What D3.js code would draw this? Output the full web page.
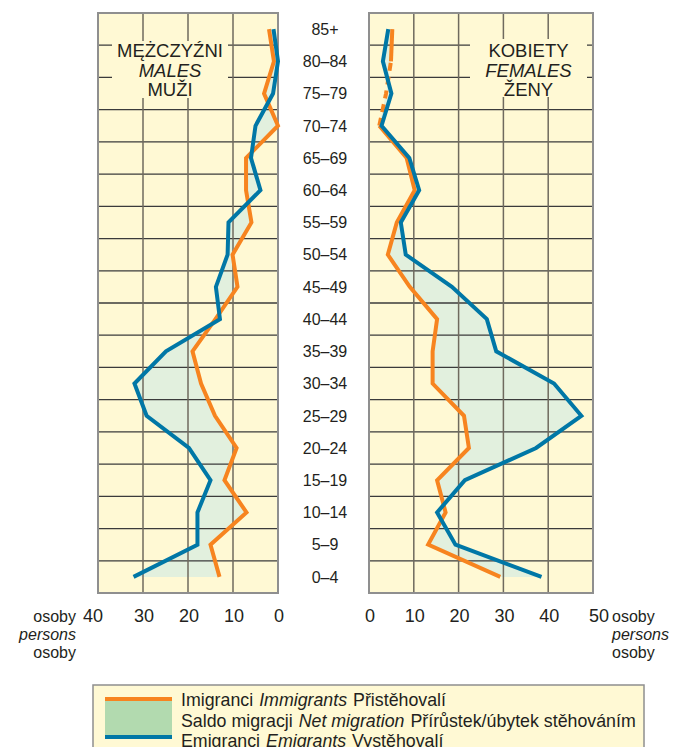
<!DOCTYPE html>
<html>
<head>
<meta charset="utf-8">
<script src="https://cdn.jsdelivr.net/npm/d3@7/dist/d3.min.js"></script>
<style>
  html, body { margin: 0; padding: 0; background: #ffffff; }
  svg { display: block; font-family: "Liberation Sans", Arial, Helvetica, sans-serif; }
</style>
</head>
<body>
<svg id="chart" width="677" height="747"></svg>
<script>
// Age groups, bottom (youngest) to top (oldest)
const ageGroups = ["0–4","5–9","10–14","15–19","20–24","25–29","30–34","35–39","40–44","45–49","50–54","55–59","60–64","65–69","70–74","75–79","80–84","85+"];

// Males (persons)
const malesImmigrants = [13.0, 15.0, 7.0, 11.9, 9.2, 14.0, 17.1, 19.0, 13.9, 9.0, 10.1, 5.9, 7.1, 7.1, 0.0, 3.1, 0.9, 2.0];
const malesEmigrants  = [32.1, 17.9, 17.9, 15.0, 19.8, 29.2, 31.9, 24.9, 12.9, 13.8, 11.2, 11.0, 3.9, 6.0, 5.0, 1.1, 0.0, 1.0];

// Females (persons)
const femalesImmigrants = [29.3, 13.2, 17.1, 15.2, 22.3, 21.2, 14.2, 14.2, 15.2, 9.1, 4.2, 6.2, 10.2, 8.4, 2.3, 3.8, 4.9, 5.2];
const femalesEmigrants  = [38.5, 19.3, 15.2, 21.4, 37.3, 47.4, 41.3, 28.4, 26.3, 18.5, 8.2, 7.1, 11.2, 9.0, 2.8, 5.0, 3.1, 4.3];
// Female immigrant segments drawn dashed (between these age groups)
const femalesImmDashed = ["70–74","75–79","80–84"];

// Axis ticks
const maleTicks = [40, 30, 20, 10, 0];
const femaleTicks = [0, 10, 20, 30, 40, 50];

// Panel titles
const maleTitle = ["MĘŻCZYŹNI", "MALES", "MUŽI"];
const femaleTitle = ["KOBIETY", "FEMALES", "ŽENY"];
const axisUnit = ["osoby", "persons", "osoby"];

// Legend
const legendLines = [
  ["Imigranci", "Immigrants", "Přistěhovalí"],
  ["Saldo migracji", "Net migration", "Přírůstek/úbytek stěhováním"],
  ["Emigranci", "Emigrants", "Vystěhovalí"]
];

const C = {
  bg: "#FFF9D4",
  grid: "#3b3b3b",
  vgrid: "#6f6a5e",
  frame: "#8f8f8f",
  orange: "#F7841F",
  blue: "#0077A6",
  fill: "#E2F0DE",
  swatch: "#B2DAAF",
  text: "#231f20"
};

const svg = d3.select("#chart");

const plotTop = 13, plotBottom = 593;
const y = d3.scaleBand().domain(ageGroups.slice().reverse()).range([plotTop, plotBottom]).padding(0);
const yc = a => y(a) + y.bandwidth() / 2;

const xL = d3.scaleLinear().domain([40, 0]).range([98, 278]);
const xR = d3.scaleLinear().domain([0, 50]).range([369, 593]);

function panel(x, ticks, imm, emi, title, titleBox, dashed) {
  const g = svg.append("g");
  const [x0, x1] = d3.extent(x.range());
  g.append("rect").attr("x", x0).attr("y", plotTop).attr("width", x1 - x0).attr("height", plotBottom - plotTop).attr("fill", C.bg);

  const data = ageGroups.map((a, i) => ({ age: a, imm: imm[i], emi: emi[i] }));

  const area = d3.area().x0(d => x(d.imm)).x1(d => x(d.emi)).y(d => yc(d.age));
  g.append("path").datum(data).attr("d", area).attr("fill", C.fill);

  const bounds = ageGroups.map(a => y(a)).filter(v => v > plotTop + 1);
  g.selectAll(".hg").data(bounds).join("line")
    .attr("x1", x0).attr("x2", x1).attr("y1", d => d).attr("y2", d => d)
    .attr("stroke", C.grid).attr("stroke-width", 1.3);
  g.selectAll(".vg").data(ticks.filter(t => x(t) > x0 + 1 && x(t) < x1 - 1)).join("line")
    .attr("x1", d => x(d)).attr("x2", d => x(d)).attr("y1", plotTop).attr("y2", plotBottom)
    .attr("stroke", C.vgrid).attr("stroke-width", 1.5);

  g.append("rect").attr("x", titleBox[0]).attr("y", titleBox[1]).attr("width", titleBox[2]).attr("height", titleBox[3]).attr("fill", C.bg);
  const cx = titleBox[0] + titleBox[2] / 2;
  title.forEach((t, i) => {
    g.append("text").attr("x", cx).attr("y", 57 + i * 19.5)
      .attr("text-anchor", "middle").attr("font-size", 18.5)
      .attr("font-style", i === 1 ? "italic" : "normal")
      .attr("fill", C.text).text(t);
  });

  g.append("rect").attr("x", x0).attr("y", plotTop).attr("width", x1 - x0).attr("height", plotBottom - plotTop)
    .attr("fill", "none").attr("stroke", C.frame).attr("stroke-width", 2);

  const line = d3.line().x(d => x(d.v)).y(d => yc(d.age));
  const immPts = data.map(d => ({ age: d.age, v: d.imm }));
  const emiPts = data.map(d => ({ age: d.age, v: d.emi }));

  if (dashed) {
    const idx = dashed.map(a => ageGroups.indexOf(a));
    const lo = d3.min(idx), hi = d3.max(idx);
    [immPts.slice(0, lo + 1), immPts.slice(hi)].forEach(seg => {
      g.append("path").datum(seg).attr("d", line).attr("fill", "none")
        .attr("stroke", C.orange).attr("stroke-width", 4).attr("stroke-linejoin", "miter");
    });
    g.append("path").datum(immPts.slice(lo, hi + 1)).attr("d", line).attr("fill", "none")
      .attr("stroke", C.orange).attr("stroke-width", 4).attr("stroke-dasharray", "8,6");
  } else {
    g.append("path").datum(immPts).attr("d", line).attr("fill", "none")
      .attr("stroke", C.orange).attr("stroke-width", 4).attr("stroke-linejoin", "miter");
  }
  g.append("path").datum(emiPts).attr("d", line).attr("fill", "none")
    .attr("stroke", C.blue).attr("stroke-width", 4).attr("stroke-linejoin", "miter");

  const lo = d3.min(x.domain()), hi = d3.max(x.domain());
  g.selectAll(".tk").data(ticks).join("text")
    .attr("x", d => {
      let px = x(d) + 1;
      if (d === hi && hi !== 0) px += (x(hi) < x(lo) ? -6 : 5);
      return px;
    })
    .attr("y", 622).attr("text-anchor", "middle").attr("font-size", 18).attr("fill", C.text)
    .text(d => d);
}

panel(xL, maleTicks, malesImmigrants, malesEmigrants, maleTitle, [112, 41, 116, 57], null);
panel(xR, femaleTicks, femalesImmigrants, femalesEmigrants, femaleTitle, [470, 39, 117, 58], femalesImmDashed);

svg.selectAll(".age").data(ageGroups).join("text")
  .attr("x", 325).attr("y", d => yc(d)).attr("dy", "0.36em")
  .attr("text-anchor", "middle").attr("font-size", 16).attr("fill", C.text)
  .text(d => d);

// axis unit labels
[[76, "end"], [612, "start"]].forEach(([ux, anchor]) => {
  axisUnit.forEach((s, i) => {
    svg.append("text").attr("x", ux).attr("y", 622 + i * 18).attr("text-anchor", anchor)
      .attr("font-size", 16).attr("font-style", i === 1 ? "italic" : "normal")
      .attr("fill", C.text).text(s);
  });
});

const lg = svg.append("g");
lg.append("rect").attr("x", 93).attr("y", 685).attr("width", 551).attr("height", 80)
  .attr("fill", C.bg).attr("stroke", C.frame).attr("stroke-width", 1.5);
lg.append("rect").attr("x", 105).attr("y", 699).attr("width", 67).attr("height", 38).attr("fill", C.swatch);
lg.append("rect").attr("x", 105).attr("y", 697).attr("width", 67).attr("height", 4).attr("fill", C.orange);
lg.append("rect").attr("x", 105).attr("y", 735).attr("width", 67).attr("height", 4).attr("fill", C.blue);
legendLines.forEach((parts, i) => {
  const t = lg.append("text").attr("x", 181).attr("y", 706 + i * 20.5).attr("font-size", 17.8).attr("fill", C.text);
  parts.forEach((p, j) => {
    t.append("tspan").attr("dx", j === 0 ? 0 : 6).attr("font-style", j === 1 ? "italic" : "normal").text(p);
  });
});
</script>
</body>
</html>
